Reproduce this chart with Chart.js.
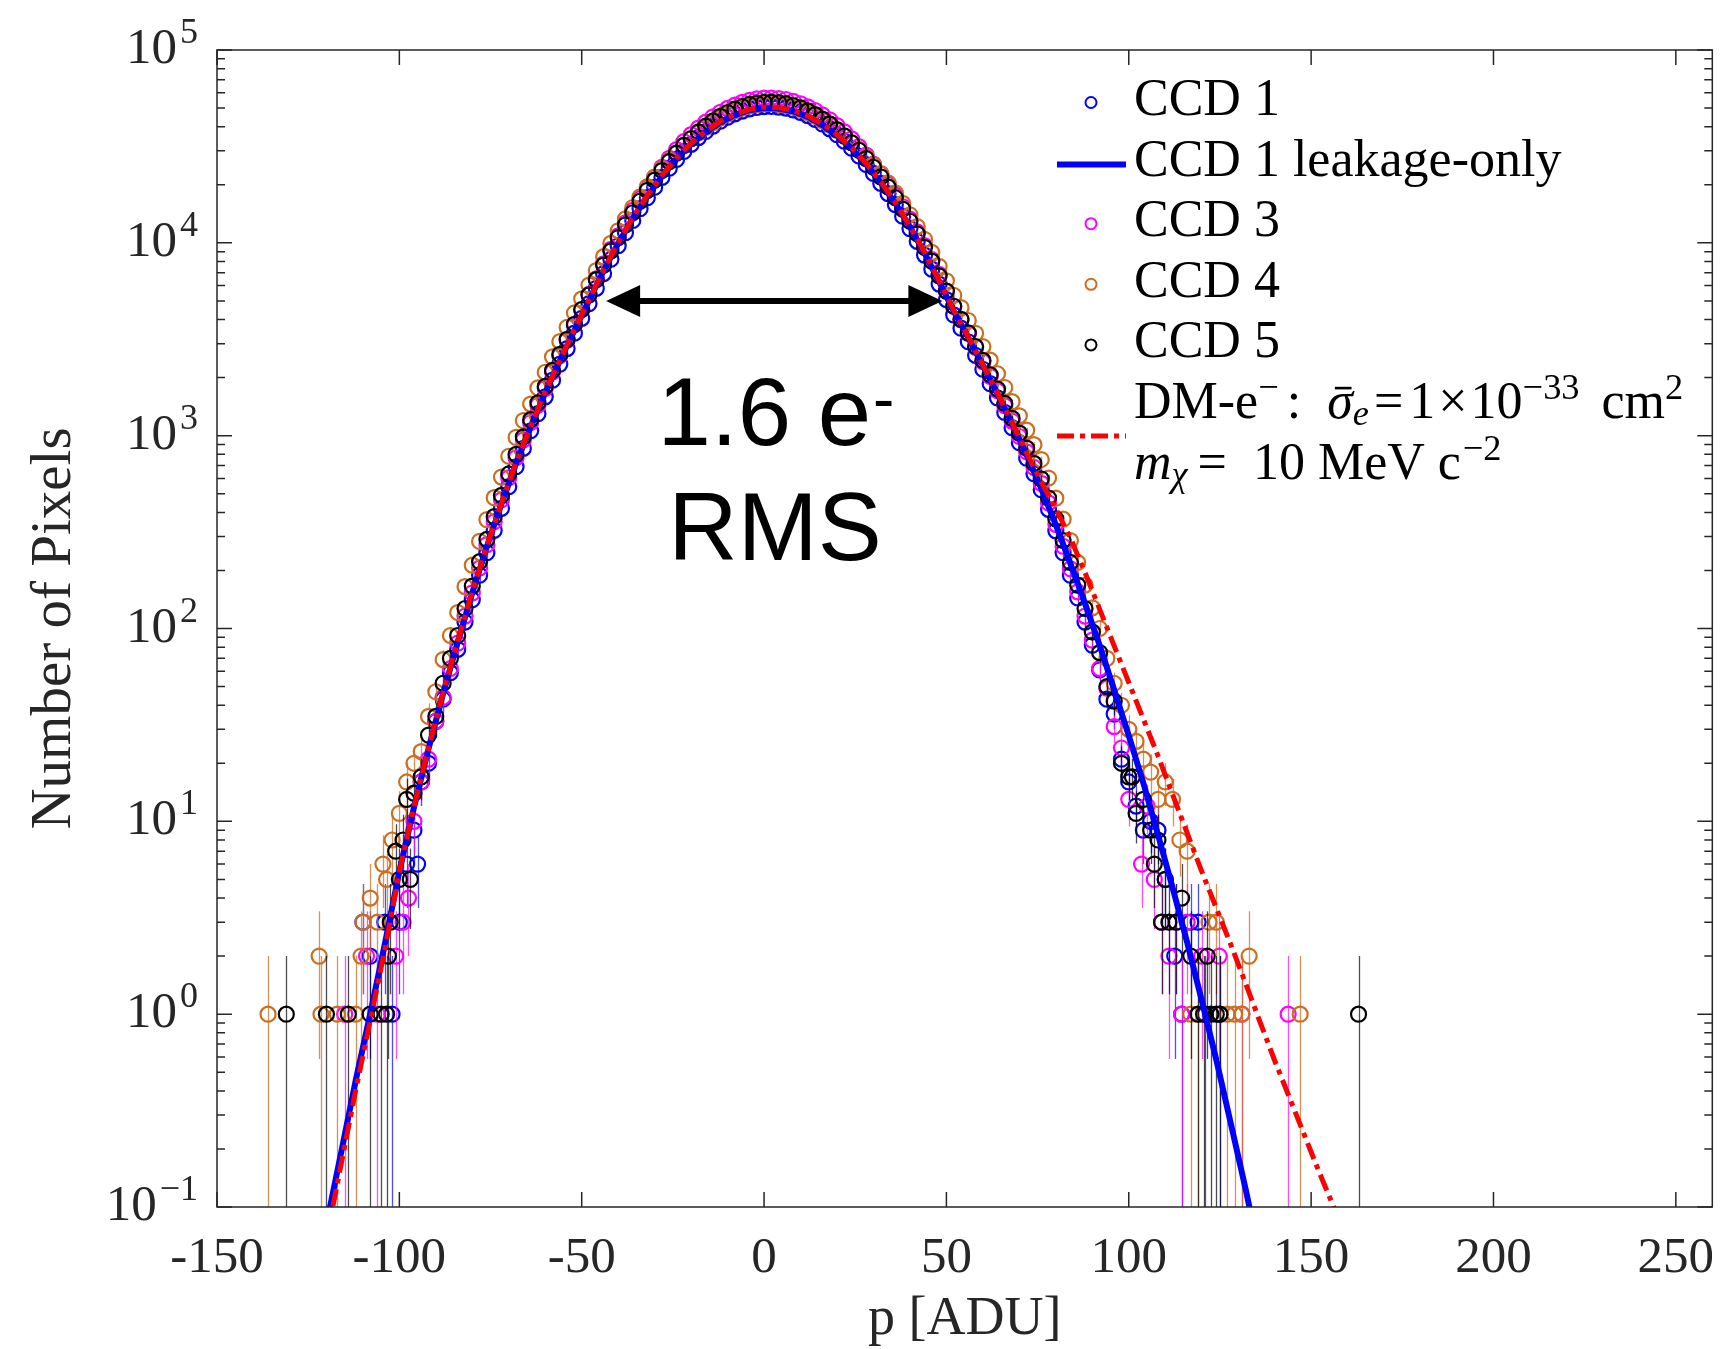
<!DOCTYPE html>
<html lang="en">
<head>
<meta charset="UTF-8" />
<title>Pixel value histogram</title>
<script src="https://cdn.jsdelivr.net/npm/chart.js@4.4.1/dist/chart.umd.min.js"></script>
<style>
  body { margin: 0; background: #fff; }
  canvas { display: block; }
</style>
</head>
<body>
<canvas id="chart" width="1722" height="1349"></canvas>
<script>
// bins of the core, 2 ADU apart
const pCore = [-96,-94,-92,-90,-88,-86,-84,-82,-80,-78,-76,-74,-72,-70,-68,-66,-64,-62,-60,-58,-56,-54,-52,-50,-48,-46,-44,-42,-40,-38,-36,-34,-32,-30,-28,-26,-24,-22,-20,-18,-16,-14,-12,-10,-8,-6,-4,-2,0,
  2,4,6,8,10,12,14,16,18,20,22,24,26,28,30,32,34,36,38,40,42,44,46,48,50,52,54,56,58,60,62,64,66,68,70,72,74,76,78,80,82,84,86,88,90,92,94,96,98,100];

// pixel counts per bin
const ccd1 = [9,16,20,33,43,59,78,108,141,189,247,323,420,544,690,860,1060,1300,1590,1940,2350,2830,3400,4060,4840,5810,6930,8220,9660,11280,13060,15030,17150,19420,21860,24380,27060,29760,32420,35150,37780,40310,42710,44800,46660,48230,49500,50330,50810,
  50930,50580,50000,48870,47460,45690,43690,41370,39010,36340,33680,30940,28210,25470,22900,20350,18010,15790,13740,11850,10180,8640,7300,6110,5080,4230,3610,3070,2610,2210,1860,1570,1320,1100,920,765,635,525,415,321,247,189,144,108,82,61,43,36,21,16];
const ccd3 = [10,16,21,33,44,62,84,116,153,206,272,358,465,605,768,950,1170,1440,1760,2140,2600,3130,3760,4510,5400,6500,7780,9240,10870,12700,14720,16950,19340,21910,24650,27460,30450,33450,36380,39380,42240,44990,47560,49790,51790,53480,54850,55740,56260,
  56390,56000,55360,54140,52630,50730,48550,46040,43470,40570,37620,34570,31530,28480,25610,22770,20150,17670,15390,13280,11400,9680,8190,6860,5620,4690,4000,3390,2870,2420,2030,1710,1430,1190,990,825,684,566,448,347,267,204,155,116,87,62,49,31,24,13];
const ccd4 = [20,23,35,47,69,92,121,165,213,283,367,477,610,782,980,1197,1458,1769,2133,2562,3076,3650,4328,5119,6041,7181,8475,9943,11540,13320,15250,17340,19550,21870,24300,26760,29320,31990,34580,37200,39670,41990,44380,46470,48330,49910,51200,52030,52510,
  52630,52260,51670,50530,49120,47340,45320,42970,40780,38250,35710,33040,30500,27900,25400,22860,20480,18170,16010,13980,12140,10430,8919,7554,6351,5347,4612,3956,3393,2897,2463,2095,1777,1501,1267,1068,898,752,603,474,369,286,220,168,128,100,70,52,40,30];
const ccd5 = [14,17,28,35,52,70,92,127,166,222,290,380,490,633,800,985,1210,1480,1800,2180,2640,3160,3780,4510,5370,6440,7670,9080,10640,12390,14320,16440,18710,21130,23710,26360,29170,31990,34750,37580,40270,42850,45290,47420,49320,50930,52240,53090,53580,
  53700,53330,52720,51560,50120,48310,46240,43850,41400,38640,35890,33040,30200,27350,24660,21980,19500,17140,14960,12940,11140,9480,8035,6745,5620,4690,4010,3410,2900,2455,2070,1746,1469,1230,1030,861,718,597,475,370,286,220,168,127,96,75,50,42,20,17];

// sparse tail bins
const ccd1TailX = [-110,-108,-104,-102,-100,-98,-95,102,104,106,108,110,112.6,114.5,117,119,121,125];
const ccd1TailY = [3,2,3,1,3,6,6,12,9,10,9,5,2,1,3,3,1,1];
const ccd3TailX = [-115,-109,-106,-101,-99,-97.5,103.5,105,107,109,111,113,114.5,116,120,124.8,131,143.7];
const ccd3TailY = [1,2,1,2,3,4,6,12,5,3,2,3,1,3,2,2,1,1];
const ccd4TailX = [-136,-122,-121.5,-117,-112,-110.5,-110,-108,-106,-104.5,-103.5,-102,-100,-98,102,104,106,108,110,112,114,116,117,119,122,124,127,129,131,133,147];
const ccd4TailY = [1,2,1,1,1,2,3,4,3,6,5,8,11,16,26,21,18,13,16,13,8,7,1,1,3,3,1,1,1,2,1];
const ccd5TailX = [-131,-120,-114,-108,-105,-103.5,-103,-102.5,-101,-100,-99,-98,-97,101,102,104,106,107,108,109,110,111,113,114.5,117,119,120.5,121.5,122.5,124,125,163];
const ccd5TailY = [1,1,1,1,1,1,2,3,7,5,8,13,5,17,11,13,9,6,8,3,5,3,3,4,2,1,1,2,1,1,1,1];

// model curves
const leakX = [-120,-116,-112,-108,-104,-100,-96,-92,-88,-84,-80,-76,-72,-68,-64,-60,-56,-52,-48,-44,-40,-36,-32,-28,-24,-20,-16,-12,-8,-4,0,4,8,12,16,20,24,28,32,36,40,44,48,52,56,60,64,68,72,76,80,84,88,92,96,100,104,108,112,116,120,124,128,132,136];
const leakY = [0.081,0.19,0.45,1.0,2.3,5.5,11.8,23.8,46,85,153,266,443,718,1107,1671,2443,3516,5012,7161,9931,13370,17460,22130,27230,32450,37580,42270,46030,48750,
  50000,49770,48080,45080,40930,36060,30830,25530,20510,16000,12080,8851,6295,4426,3214,2307,1641,1153,793,531,345,217,135,82,48,27.8,15.8,8.55,4.54,2.36,1.18,0.58,0.27,0.125,0.055];
const dmX = [-120,-116,-112,-108,-104,-100,-96,-92,-88,-84,-80,-76,-72,-68,-64,-60,-56,-52,-48,-44,-40,-36,-32,-28,-24,-20,-16,-12,-8,-4,0,4,8,12,16,20,24,28,32,36,40,44,48,52,56,60,64,68,72,76,80,84,88,92,96,100,104,108,112,116,120,124,128,132,136,140,144,148,152,156,160];
const dmY = [0.068,0.165,0.40,0.92,2.15,5.5,11.9,24,46.5,86,155,269,447,725,1118,1688,2467,3551,5062,7233,10030,13500,17630,22350,27500,32770,37960,42690,46490,49240,
  50500,50270,48560,45530,41340,36420,31140,25790,20720,16160,12200,8940,6360,4470,3250,2330,1660,1165,813,575,417,295,195,126,81.3,52.5,33.9,21.9,13.8,8.71,5.5,3.55,2.29,1.45,0.91,0.575,0.372,0.24,0.155,0.102,0.066];

const xTickLabels = [-150,-100,-50,0,50,100,150,200,250];
const yTickExps = [-1,0,1,2,3,4,5];

const SERIF = '"Liberation Serif", "DejaVu Serif", serif';
const SANS = '"Liberation Sans", Arial, sans-serif';
const AX = '#262626';

function pts(xs, ys, tx, ty) {
  const out = xs.map((x, i) => ({ x: x, y: ys[i] }));
  (tx || []).forEach((x, i) => out.push({ x: x, y: ty[i] }));
  return out;
}

function ccdSet(label, color, errColor, data, order) {
  return {
    label: label, data: data, showLine: false, order: order,
    borderColor: color, pointBorderColor: color, pointBackgroundColor: 'rgba(0,0,0,0)',
    pointRadius: 7.5, pointBorderWidth: 2.2, pointStyle: 'circle', errColor: errColor
  };
}

const datasets = [
  ccdSet('CCD 1', '#0000ff', 'rgba(0,0,255,0.7)', pts(pCore, ccd1, ccd1TailX, ccd1TailY), 5),
  { label: 'CCD 1 leakage-only', data: pts(leakX, leakY), showLine: true, pointRadius: 0,
    borderColor: '#0000ff', borderWidth: 6, order: 1, clip: 0, tension: 0 },
  ccdSet('CCD 3', '#ff00ff', 'rgba(255,0,255,0.7)', pts(pCore, ccd3, ccd3TailX, ccd3TailY), 4),
  ccdSet('CCD 4', '#cd6e1e', 'rgba(205,110,30,0.75)', pts(pCore, ccd4, ccd4TailX, ccd4TailY), 3),
  ccdSet('CCD 5', '#000000', 'rgba(0,0,0,0.7)', pts(pCore, ccd5, ccd5TailX, ccd5TailY), 2),
  { label: 'DM', data: pts(dmX, dmY), showLine: true, pointRadius: 0,
    borderColor: '#ff0000', borderWidth: 5, borderDash: [17, 6, 5, 6], order: 0, clip: 0, tension: 0 }
];

// Poisson error bars, drawn just before each CCD series
const errorBars = {
  id: 'errorBars',
  beforeDatasetDraw(chart, args) {
    const ds = chart.data.datasets[args.index];
    if (!ds.errColor) return;
    const { ctx, chartArea: a, scales: { x, y } } = chart;
    ctx.save();
    ctx.beginPath();
    ctx.rect(a.left, a.top, a.right - a.left, a.bottom - a.top);
    ctx.clip();
    ctx.strokeStyle = ds.errColor;
    ctx.lineWidth = 1.3;
    ctx.beginPath();
    ds.data.forEach(p => {
      const e = Math.sqrt(p.y);
      const px = Math.round(x.getPixelForValue(p.x)) + 0.5;
      const lo = p.y - e > y.min ? y.getPixelForValue(p.y - e) : a.bottom;
      ctx.moveTo(px, lo);
      ctx.lineTo(px, y.getPixelForValue(p.y + e));
    });
    ctx.stroke();
    ctx.restore();
  }
};

// box, inward ticks, tick labels and axis titles
const frame = {
  id: 'frame',
  afterDraw(chart) {
    const { ctx, chartArea: a, scales: { x, y } } = chart;
    ctx.save();
    ctx.strokeStyle = AX;
    ctx.lineWidth = 1.5;
    ctx.strokeRect(a.left, a.top, a.right - a.left, a.bottom - a.top);
    ctx.beginPath();
    xTickLabels.forEach(v => {
      const px = x.getPixelForValue(v);
      ctx.moveTo(px, a.bottom); ctx.lineTo(px, a.bottom - 15);
      ctx.moveTo(px, a.top); ctx.lineTo(px, a.top + 15);
    });
    yTickExps.forEach(k => {
      for (let m = 1; m < 10; m++) {
        const v = m * Math.pow(10, k);
        if (v > y.max * 1.001) break;
        const py = y.getPixelForValue(v);
        const len = m === 1 ? 15 : 8;
        ctx.moveTo(a.left, py); ctx.lineTo(a.left + len, py);
        ctx.moveTo(a.right, py); ctx.lineTo(a.right - len, py);
      }
    });
    ctx.stroke();

    ctx.fillStyle = AX;
    ctx.textBaseline = 'alphabetic';
    ctx.font = '51px ' + SERIF;
    ctx.textAlign = 'center';
    xTickLabels.forEach(v => {
      ctx.fillText(v < 0 ? '-' + (-v) : String(v), x.getPixelForValue(v), a.bottom + 65);
    });

    ctx.textAlign = 'left';
    yTickExps.forEach(k => {
      const py = y.getPixelForValue(Math.pow(10, k));
      const ex = k < 0 ? '\u2212' + (-k) : String(k);
      ctx.font = '51px ' + SERIF;
      const w10 = ctx.measureText('10').width;
      ctx.font = '36px ' + SERIF;
      const wEx = ctx.measureText(ex).width;
      const x0 = 198 - w10 - 3 - wEx;
      ctx.font = '51px ' + SERIF;
      ctx.fillText('10', x0, py + 13);
      ctx.font = '36px ' + SERIF;
      ctx.fillText(ex, x0 + w10 + 3, py - 7);
    });

    ctx.font = '54px ' + SERIF;
    ctx.textAlign = 'center';
    ctx.fillText('p [ADU]', (a.left + a.right) / 2, 1334);
    ctx.font = '57px ' + SERIF;
    ctx.translate(70, (a.top + a.bottom) / 2);
    ctx.rotate(-Math.PI / 2);
    ctx.fillText('Number of Pixels', 0, 0);
    ctx.restore();
  }
};

function drawRich(ctx, parts, x, y, size) {
  parts.forEach(p => {
    const small = p.sup || p.sub;
    const s = small ? size * 0.7 : size;
    ctx.font = (p.it ? 'italic ' : '') + s + 'px ' + SERIF;
    const dy = p.sup ? -size * 0.36 : p.sub ? size * 0.14 : 0;
    ctx.fillText(p.t, x, y + dy);
    const w = ctx.measureText(p.t).width;
    if (p.bar) ctx.fillRect(x + w * 0.3, y - size * 0.6, w * 0.65, 2.6);
    x += w + (p.gap || 0);
  });
}

const dmLine1 = [
  { t: 'DM-e' }, { t: '\u2212', sup: true, gap: 8 }, { t: ':', gap: 26 },
  { t: '\u03c3', it: true, bar: true }, { t: 'e', it: true, sub: true, gap: 5 },
  { t: '=', gap: 6 }, { t: '1', gap: 3 }, { t: '\u00d7', gap: 3 }, { t: '10' },
  { t: '\u221233', sup: true, gap: 22 }, { t: 'cm' }, { t: '2', sup: true }
];
const dmLine2 = [
  { t: 'm', it: true }, { t: '\u03c7', it: true, sub: true, gap: 10 },
  { t: '=', gap: 26 }, { t: '10 MeV c', gap: 2 }, { t: '\u22122', sup: true }
];

const legendBox = {
  id: 'legendBox',
  afterDraw(chart) {
    const ctx = chart.ctx;
    const ds = chart.data.datasets;
    const tx = 1134, mx = 1091, l0 = 1057, l1 = 1126, step = 60.6;
    ctx.save();
    ctx.textAlign = 'left';
    ctx.textBaseline = 'alphabetic';
    ctx.fillStyle = '#000';
    for (let i = 0; i < 5; i++) {
      const d = ds[i];
      const base = 115 + step * i;
      if (d.showLine) {
        ctx.strokeStyle = d.borderColor;
        ctx.lineWidth = d.borderWidth;
        ctx.beginPath(); ctx.moveTo(l0, base - 11); ctx.lineTo(l1, base - 11); ctx.stroke();
      } else {
        ctx.strokeStyle = d.borderColor;
        ctx.lineWidth = 2;
        ctx.beginPath(); ctx.arc(mx, base - 12.5, 5.5, 0, Math.PI * 2); ctx.stroke();
      }
      ctx.font = '52px ' + SERIF;
      ctx.fillText(d.label, tx, base);
    }
    const dm = ds[5];
    const b1 = 115 + step * 5, b2 = b1 + step;
    ctx.strokeStyle = dm.borderColor;
    ctx.lineWidth = dm.borderWidth;
    ctx.setLineDash(dm.borderDash);
    ctx.beginPath(); ctx.moveTo(l0, b1 + 18); ctx.lineTo(l1, b1 + 18); ctx.stroke();
    ctx.setLineDash([]);
    drawRich(ctx, dmLine1, tx, b1, 52);
    drawRich(ctx, dmLine2, tx, b2, 52);
    ctx.restore();
  }
};

// width marker and its label
const arrowFrom = -43.3, arrowTo = 48.9, arrowLevel = 5000, labelAt = 3;
const annot = {
  id: 'annot',
  afterDraw(chart) {
    const { ctx, chartArea: a, scales: { x, y } } = chart;
    const x0 = x.getPixelForValue(arrowFrom), x1 = x.getPixelForValue(arrowTo);
    const py = y.getPixelForValue(arrowLevel);
    ctx.save();
    ctx.fillStyle = '#000';
    ctx.strokeStyle = '#000';
    ctx.lineWidth = 6;
    ctx.beginPath(); ctx.moveTo(x0 + 25, py); ctx.lineTo(x1 - 25, py); ctx.stroke();
    ctx.beginPath(); ctx.moveTo(x0, py); ctx.lineTo(x0 + 34, py - 16); ctx.lineTo(x0 + 34, py + 16); ctx.closePath(); ctx.fill();
    ctx.beginPath(); ctx.moveTo(x1, py); ctx.lineTo(x1 - 34, py - 16); ctx.lineTo(x1 - 34, py + 16); ctx.closePath(); ctx.fill();

    const cx = x.getPixelForValue(labelAt);
    ctx.textBaseline = 'alphabetic';
    ctx.font = '96px ' + SANS;
    const wMain = ctx.measureText('1.6 e').width;
    ctx.font = '64px ' + SANS;
    const wSup = ctx.measureText('-').width;
    const left = cx - (wMain + wSup) / 2;
    ctx.textAlign = 'left';
    ctx.font = '96px ' + SANS;
    ctx.fillText('1.6 e', left, a.top + 395);
    ctx.font = '64px ' + SANS;
    ctx.fillText('-', left + wMain + 2, a.top + 371);
    ctx.font = '96px ' + SANS;
    ctx.textAlign = 'center';
    ctx.fillText('RMS', cx, a.top + 510);
    ctx.restore();
  }
};

new Chart(document.getElementById('chart'), {
  type: 'scatter',
  data: { datasets: datasets },
  options: {
    responsive: false,
    animation: false,
    devicePixelRatio: 1,
    events: [],
    layout: { padding: { left: 217, right: 8, top: 50, bottom: 142 } },
    scales: {
      x: { type: 'linear', min: -150, max: 260, display: false },
      y: { type: 'logarithmic', min: 0.1, max: 100000, display: false }
    },
    plugins: { legend: { display: false }, tooltip: { enabled: false } }
  },
  plugins: [errorBars, frame, legendBox, annot]
});
</script>
</body>
</html>
